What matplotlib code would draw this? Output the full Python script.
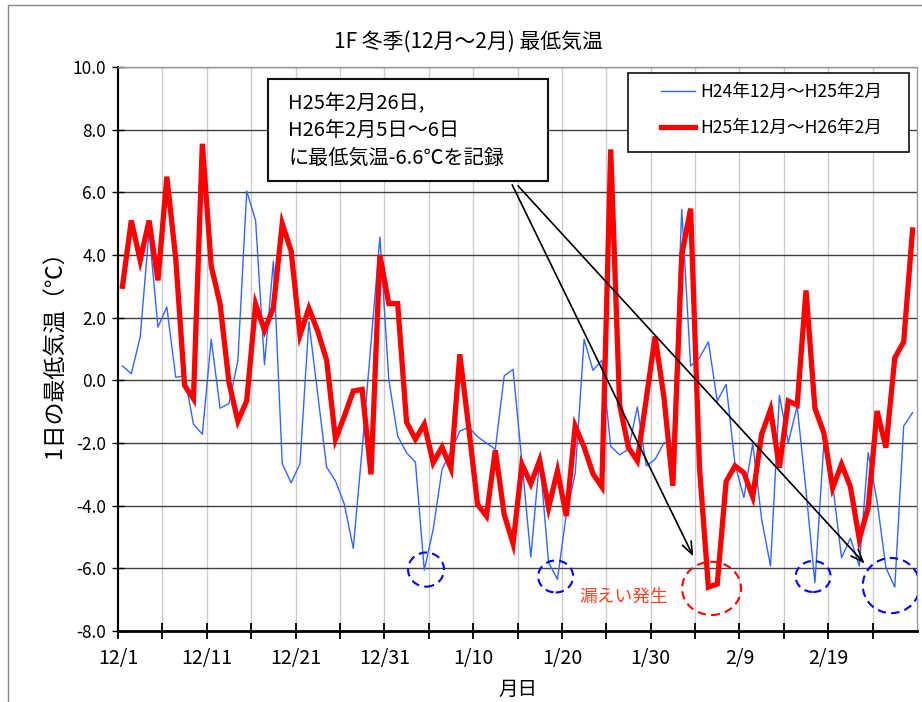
import matplotlib
matplotlib.use('Agg')
from matplotlib import pyplot as plt
from matplotlib.patches import Ellipse, Rectangle
import numpy as np

plt.rcParams['font.family'] = ['Noto Sans CJK JP', 'DejaVu Sans']

# daily minimum temperature, 12/1 .. 2/28 (90 days)
h24_min = [0.46, 0.21, 1.38, 4.77, 1.70, 2.34, 0.10, 0.14, -1.40, -1.72,
           1.31, -0.89, -0.74, 0.62, 6.04, 5.10, 0.50, 3.80, -2.66, -3.27,
           -2.66, 1.87, -0.45, -2.77, -3.21, -3.96, -5.36, -2.20, 1.20, 4.57,
           0.03, -1.78, -2.31, -2.61, -6.06, -4.76, -2.84, -2.26, -1.62, -1.50,
           -1.80, -2.00, -2.20, 0.14, 0.35, -2.60, -5.64, -2.47, -5.82, -6.35,
           -4.25, -2.98, 1.31, 0.32, 0.64, -2.10, -2.38, -2.20, -0.85, -2.73,
           -2.52, -1.99, -2.00, 5.46, 0.46, 0.72, 1.23, -0.66, -0.13, -2.68,
           -3.74, -2.02, -4.43, -5.93, -0.48, -1.99, -0.82, -3.53, -6.46, -2.04,
           -3.32, -5.66, -5.04, -5.93, -2.31, -3.85, -5.98, -6.60, -1.46, -1.03]
h25_min = [3.00, 5.10, 3.83, 5.10, 3.19, 6.50, 3.90, -0.16, -0.59, 7.55,
           3.65, 2.43, -0.07, -1.30, -0.65, 2.43, 1.60, 2.32, 5.00, 4.13,
           1.45, 2.30, 1.57, 0.64, -1.88, -1.14, -0.34, -0.29, -3.00, 4.00,
           2.45, 2.45, -1.33, -1.88, -1.40, -2.63, -2.13, -2.81, 0.83, -1.50,
           -3.96, -4.33, -2.23, -4.28, -5.21, -2.68, -3.30, -2.55, -4.06, -2.89,
           -4.33, -1.46, -2.13, -2.98, -3.40, 7.37, -0.77, -2.15, -2.57, -0.60,
           1.40, -0.55, -3.37, 4.00, 5.48, -2.79, -6.60, -6.50, -3.23, -2.73,
           -2.95, -3.72, -1.72, -0.93, -2.79, -0.66, -0.79, 2.87, -0.89, -1.67,
           -3.43, -2.68, -3.40, -5.07, -4.06, -0.98, -2.15, 0.72, 1.23, 4.80]
date_labels = ['12/1', '12/11', '12/21', '12/31', '1/10', '1/20', '1/30', '2/9', '2/19']
series_labels = ['H24年12月～H25年2月', 'H25年12月～H26年2月']
yticks = np.arange(-8.0, 10.1, 2.0)

days = np.arange(len(h24_min))

fig = plt.figure(figsize=(9.22, 7.02), dpi=100)
ax = fig.add_axes([118 / 922, 71 / 702, 799 / 922, 564 / 702])

ax.plot(days, h24_min, color='#3366ff', lw=1.0, label=series_labels[0], zorder=3)
ax.plot(days, h25_min, color='#ff0000', lw=3.8, label=series_labels[1], zorder=4,
        solid_joinstyle='miter')

ax.set_xlim(-0.5, len(days) - 0.5)
ax.set_ylim(-8.0, 10.0)
major = np.arange(len(date_labels)) * 10 - 0.5
ax.set_xticks(major)
ax.set_xticklabels(date_labels, fontsize=14)
ax.set_xticks(np.arange(4.5, len(days), 10), minor=True)
ax.set_yticks(yticks)
ax.set_yticklabels(['%.1f' % v for v in yticks], fontsize=12.5)
ax.tick_params(axis='x', which='both', direction='inout', length=11, width=1.3, pad=7)
ax.tick_params(axis='y', direction='inout', length=9, width=1.0, pad=4)

ax.grid(axis='x', which='both', color='#cccccc', lw=1.0)
ax.grid(axis='y', color='#404040', lw=1.0)
ax.set_axisbelow(True)
for s in ('top', 'right'):
    ax.spines[s].set_color('#999999')
    ax.spines[s].set_linewidth(1.0)
ax.spines['bottom'].set_linewidth(2.0)
ax.spines['left'].set_linewidth(1.5)

ax.set_xlabel('月日', fontsize=14, labelpad=7)
ax.set_ylabel('1日の最低気温（℃）', fontsize=16.5, labelpad=5)
fig.text(468 / 922, 1 - 42 / 702, '1F 冬季(12月～2月) 最低気温', ha='center', va='center',
         fontsize=15)

# legend: frame drawn separately so the padding can differ per side
ax.add_patch(Rectangle((0.6383, 0.8493), 0.3517, 0.1401, transform=ax.transAxes,
                       facecolor='white', edgecolor='#222222', lw=1.3, zorder=6))
leg = ax.legend(loc='upper left', bbox_to_anchor=(0.6796, 0.972), borderaxespad=0,
                borderpad=0, frameon=False, fontsize=12.7, handlelength=1.95,
                labelspacing=1.05, handletextpad=0.3)
leg.set_zorder(7)

# note box with arrows
ax.add_patch(Rectangle((16.4, 6.35), 31.5, 3.26, facecolor='white', edgecolor='#111111',
                       lw=1.5, zorder=6))
ax.text(18.7, 7.95, 'H25年2月26日,\nH26年2月5日～6日\nに最低気温-6.6℃を記録',
        ha='left', va='center', fontsize=14.5, linespacing=1.38, zorder=7)
ax.annotate('', xy=(64.3, -5.62), xytext=(43.9, 6.24),
            arrowprops=dict(arrowstyle='->,head_length=0.9,head_width=0.35', color='black',
                            lw=1.2, shrinkA=0, shrinkB=0), zorder=7)
ax.annotate('', xy=(83.6, -5.85), xytext=(44.55, 6.21),
            arrowprops=dict(arrowstyle='->,head_length=0.9,head_width=0.35', color='black',
                            lw=1.2, shrinkA=0, shrinkB=0), zorder=7)

# dashed circles
for cx, cy, w, h in [(34.2, -6.04, 4.05, 1.09), (48.8, -6.26, 3.94, 1.02),
                     (77.8, -6.26, 3.94, 0.99), (86.6, -6.55, 6.42, 1.76)]:
    ax.add_patch(Ellipse((cx, cy), w, h, fill=False, edgecolor='#0000ff', lw=1.5,
                         ls=(0, (4, 2.5)), zorder=5))
ax.add_patch(Ellipse((66.36, -6.64), 6.65, 1.70, fill=False, edgecolor='#ff0000', lw=1.5,
                     ls=(0, (4, 2.5)), zorder=5))
ax.text(51.5, -6.91, '漏えい発生', color='#ff4422', fontsize=12.8, ha='left', va='center',
        zorder=6)

fig.patches.append(Rectangle((8 / 922, -0.1), 1.2, 1.1 - 5 / 702, fill=False,
                             edgecolor='#888888', lw=1.0, transform=fig.transFigure))

fig.savefig('out.png', dpi=100)
